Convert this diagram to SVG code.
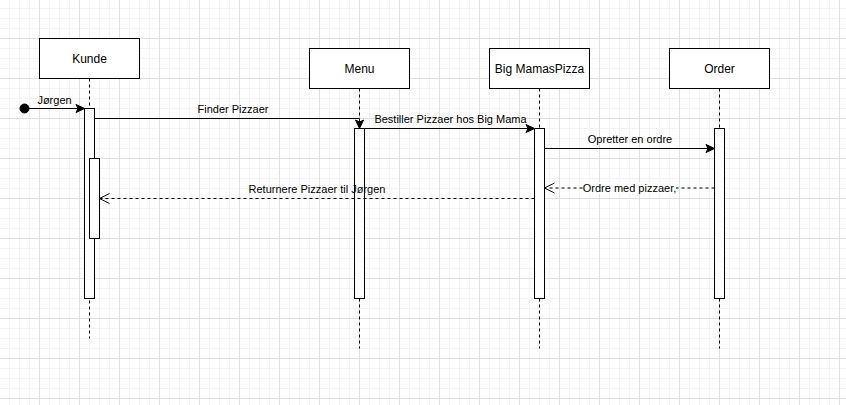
<svg xmlns="http://www.w3.org/2000/svg" width="846" height="405" viewBox="0 0 846 405">
  <style>
    .box { fill: #ffffff; stroke: #000000; stroke-width: 1; }
    .life { fill: none; stroke: #000000; stroke-width: 1; stroke-dasharray: 3 3; }
    .act { fill: #ffffff; stroke: #000000; stroke-width: 1; }
    .msg { fill: none; stroke: #000000; stroke-width: 1; }
    .ret { fill: none; stroke: #000000; stroke-width: 1; stroke-dasharray: 3 3; }
    .name { font-family: "Liberation Sans", Arial, Helvetica, sans-serif; font-size: 12px; fill: #000000; text-anchor: middle; dominant-baseline: central; }
    .lbl { font-family: "Liberation Sans", Arial, Helvetica, sans-serif; font-size: 11px; fill: #000000; text-anchor: middle; }
  </style>
  <defs>
    <pattern id="grid" patternUnits="userSpaceOnUse" x="39" y="38" width="40" height="40">
      <path d="M10.5 0V40M20.5 0V40M30.5 0V40M0 10.5H40M0 20.5H40M0 30.5H40" stroke="#f3f3f3" stroke-width="1" fill="none"/>
      <path d="M0.5 0V40M0 0.5H40" stroke="#e0e0e0" stroke-width="1" fill="none"/>
    </pattern>
    <marker id="block" markerUnits="userSpaceOnUse" markerWidth="12" markerHeight="12" viewBox="-10 -6 12 12" refX="0" refY="0" orient="auto">
      <path d="M0 0L-8.5 -4L-6.5 0L-8.5 4Z" fill="#000000" stroke="#000000" stroke-width="1" stroke-linejoin="miter"/>
    </marker>
    <marker id="open" markerUnits="userSpaceOnUse" markerWidth="14" markerHeight="14" viewBox="-12 -7 14 14" refX="0" refY="0" orient="auto">
      <path d="M-10 -5L0 0L-10 5" fill="none" stroke="#000000" stroke-width="1"/>
    </marker>
  </defs>
  <rect x="0" y="0" width="846" height="405" fill="#ffffff"/>
  <rect x="0" y="0" width="846" height="405" fill="url(#grid)"/>

  <g id="kunde">
    <rect class="box" x="39.5" y="38.5" width="100" height="40"/>
    <text class="name" x="89.5" y="58.5">Kunde</text>
    <line class="life" x1="89.5" y1="78.5" x2="89.5" y2="338.5"/>
    <rect class="act" x="84.5" y="108.5" width="10" height="190"/>
    <rect class="act" x="89.5" y="158.5" width="10" height="80"/>
  </g>

  <g id="menu">
    <rect class="box" x="309.5" y="48.5" width="100" height="40"/>
    <text class="name" x="359.5" y="68.5">Menu</text>
    <line class="life" x1="359.5" y1="88.5" x2="359.5" y2="348.5"/>
    <rect class="act" x="354.5" y="128.5" width="10" height="170"/>
  </g>

  <g id="bigmamaspizza">
    <rect class="box" x="489.5" y="48.5" width="100" height="40"/>
    <text class="name" x="539.5" y="68.5">Big MamasPizza</text>
    <line class="life" x1="539.5" y1="88.5" x2="539.5" y2="348.5"/>
    <rect class="act" x="534.5" y="128.5" width="10" height="170"/>
  </g>

  <g id="order">
    <rect class="box" x="669.5" y="48.5" width="100" height="40"/>
    <text class="name" x="719.5" y="68.5">Order</text>
    <line class="life" x1="719.5" y1="88.5" x2="719.5" y2="348.5"/>
    <rect class="act" x="714.5" y="128.5" width="10" height="170"/>
  </g>

  <g id="start">
    <circle cx="24.5" cy="108.5" r="4.5" fill="#000000" stroke="#000000" stroke-width="1"/>
  </g>

  <g id="connectors">
    <path class="msg" d="M29 108.5H84.5" marker-end="url(#block)"/>
    <text class="lbl" x="54.5" y="104">Jørgen</text>

    <path class="msg" d="M94.5 118.5H359.5V128.5" marker-end="url(#block)"/>
    <text class="lbl" x="233" y="113">Finder Pizzaer</text>

    <path class="msg" d="M364.5 128.5H534.5" marker-end="url(#block)"/>
    <text class="lbl" x="450.5" y="123">Bestiller Pizzaer hos Big Mama</text>

    <path class="msg" d="M544.5 148.5H714.5" marker-end="url(#block)"/>
    <text class="lbl" x="630" y="143">Opretter en ordre</text>

    <path class="ret" d="M714.5 188H544.5" marker-end="url(#open)"/>
    <rect x="583" y="182" width="93" height="12" fill="#ffffff"/>
    <text class="lbl" x="629.5" y="192">Ordre med pizzaer,</text>

    <path class="ret" d="M534.5 198.5H99.5" marker-end="url(#open)"/>
    <text class="lbl" x="317" y="192.5">Returnere Pizzaer til Jørgen</text>
  </g>
</svg>
